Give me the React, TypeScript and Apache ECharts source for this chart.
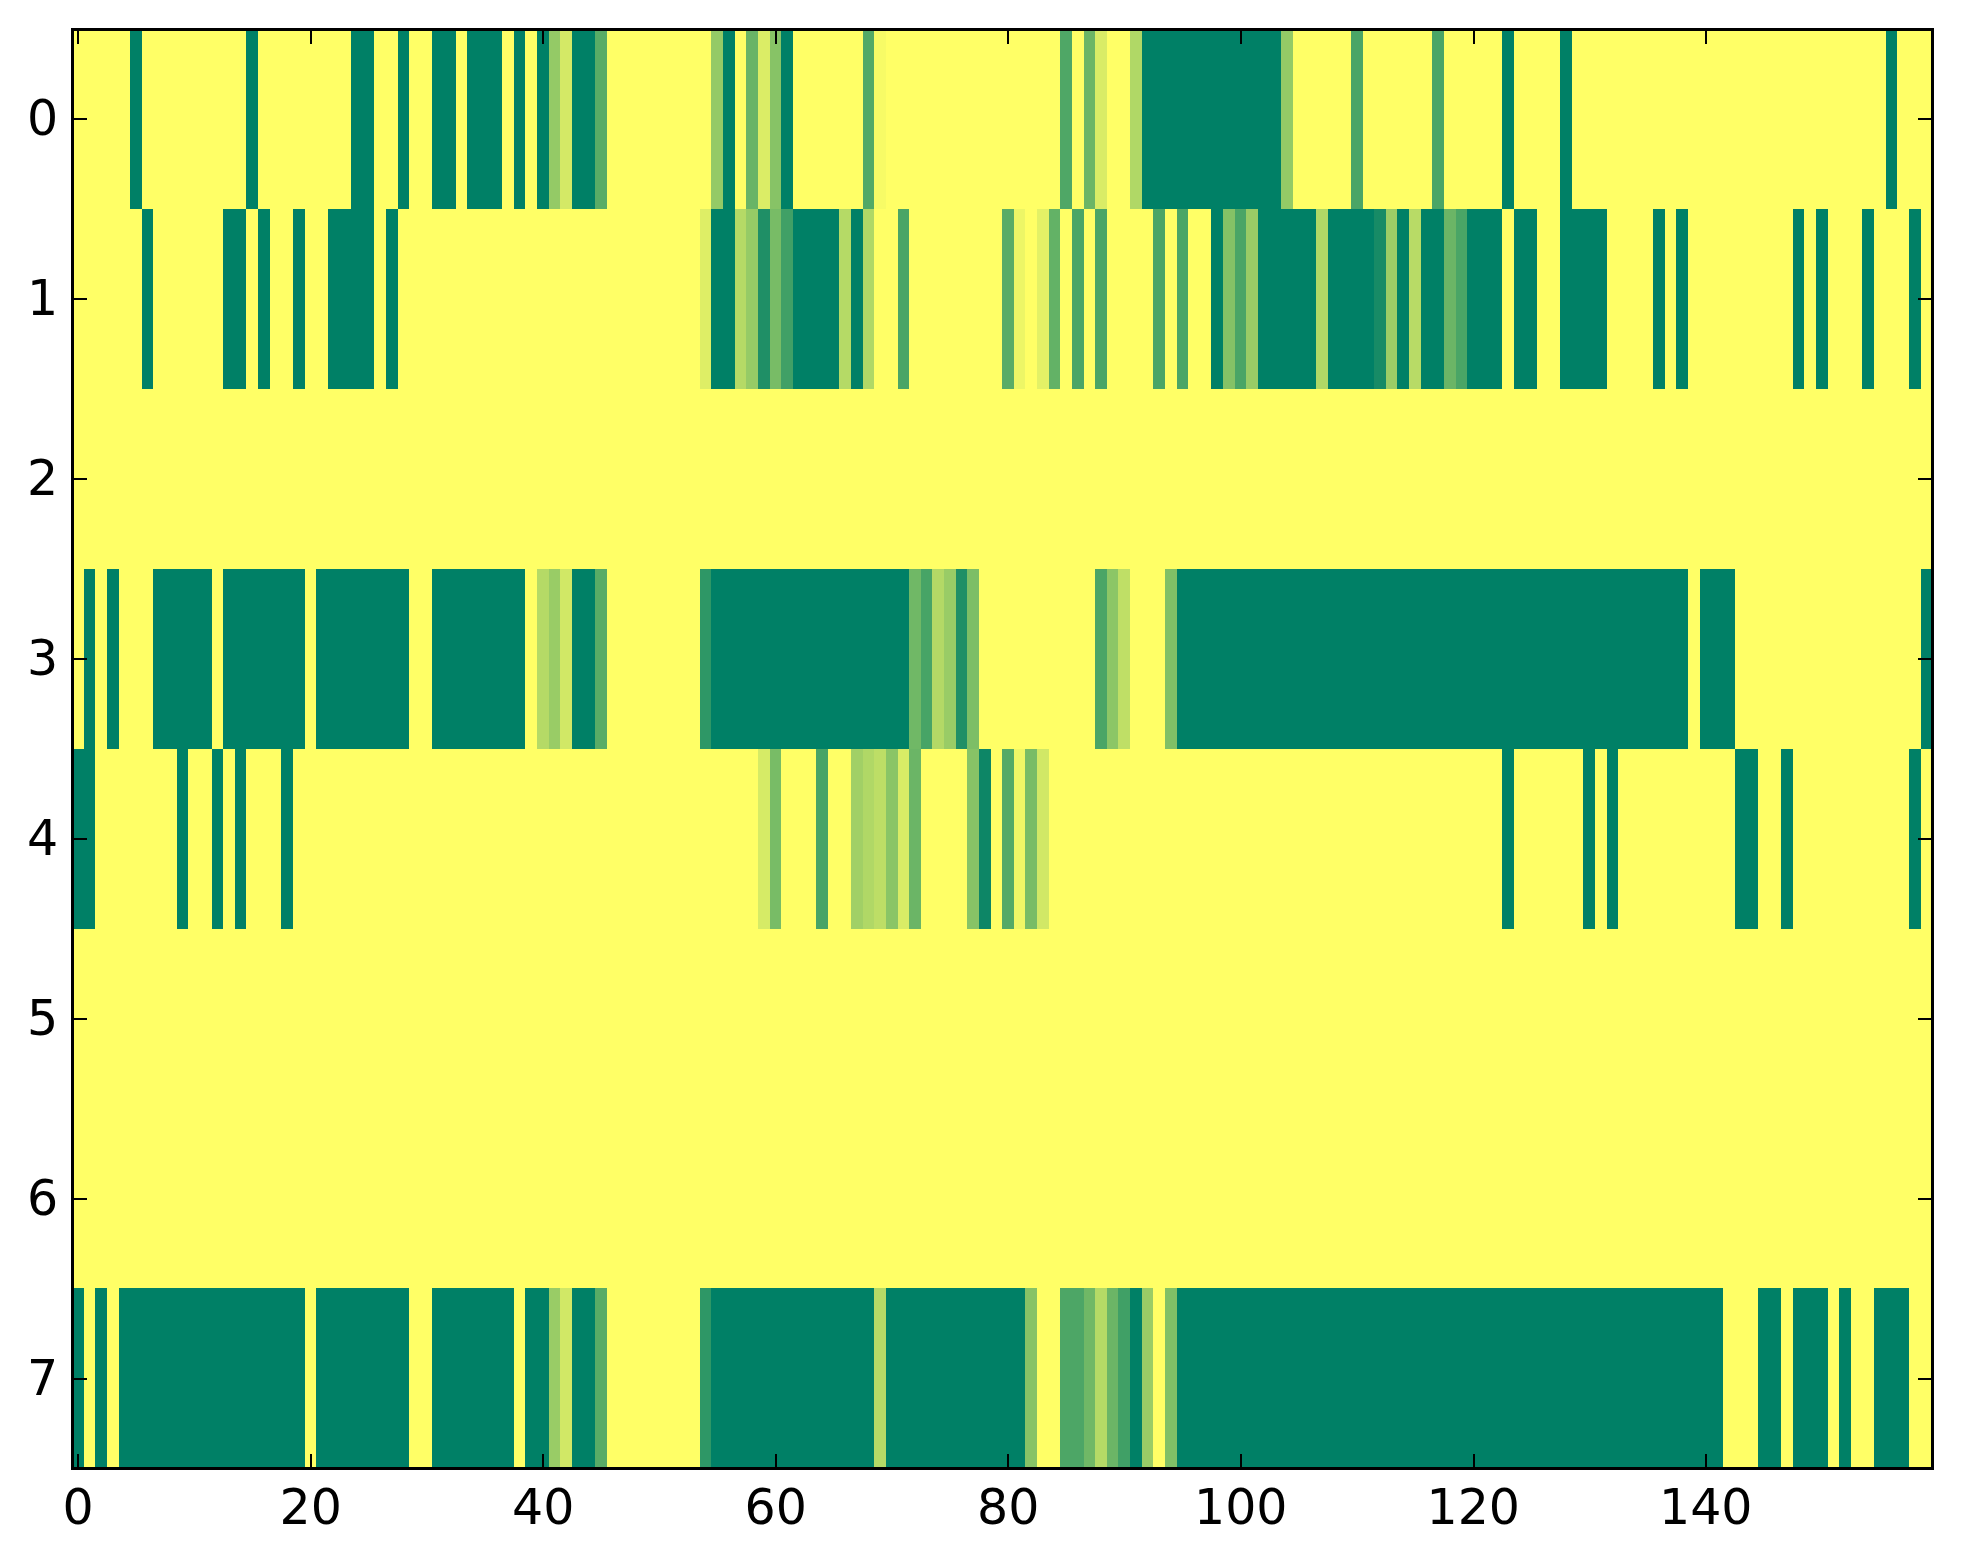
import React, { useEffect, useRef } from 'react';
import * as echarts from 'echarts';

const rowLabels = ['0', '1', '2', '3', '4', '5', '6', '7'];
const xTickValues = [0, 20, 40, 60, 80, 100, 120, 140];

const row0 = [
  1, 1, 1, 1, 1, 0, 1, 1, 1, 1,
  1, 1, 1, 1, 1, 0, 1, 1, 1, 1,
  1, 1, 1, 1, 0, 0, 1, 1, 0, 1,
  1, 0, 0, 1, 0, 0, 0, 1, 0, 1,
  0, 0.58, 0.83, 0, 0, 0.35, 1, 1, 1, 1,
  1, 1, 1, 1, 1, 0.58, 0, 1, 0.41, 0.86,
  0.53, 0, 1, 1, 1, 1, 1, 1, 0.32, 0.97,
  1, 1, 1, 1, 1, 1, 1, 1, 1, 1,
  1, 1, 1, 1, 1, 0.31, 1, 0.42, 0.85, 1,
  1, 0.69, 0, 0, 0, 0, 0, 0, 0, 0,
  0, 0, 0, 0, 0.58, 1, 1, 1, 1, 1,
  0.29, 1, 1, 1, 1, 1, 1, 0.29, 1, 1,
  1, 1, 1, 0, 1, 1, 1, 1, 0, 1,
  1, 1, 1, 1, 1, 1, 1, 1, 1, 1,
  1, 1, 1, 1, 1, 1, 1, 1, 1, 1,
  1, 1, 1, 1, 1, 1, 0, 1, 1, 1,
];

const row1 = [
  1, 1, 1, 1, 1, 1, 0, 1, 1, 1,
  1, 1, 1, 0, 0, 1, 0, 1, 1, 0,
  1, 1, 0, 0, 0, 0, 1, 0, 1, 1,
  1, 1, 1, 1, 1, 1, 1, 1, 1, 1,
  1, 1, 1, 1, 1, 1, 1, 1, 1, 1,
  1, 1, 1, 1, 0.87, 0, 0, 0.71, 0.59, 0.12,
  0.47, 0.25, 0, 0, 0, 0, 0.71, 0, 0.69, 1,
  1, 0.29, 1, 1, 1, 1, 1, 1, 1, 1,
  0.35, 0.93, 1, 0.89, 0.39, 1, 0.29, 1, 0.29, 1,
  1, 1, 1, 0.29, 1, 0.29, 1, 1, 0, 0.52,
  0.29, 0.6, 0, 0, 0, 0, 0, 0.69, 0, 0,
  0, 0, 0.09, 0.61, 0, 0.72, 0, 0, 0.42, 0.29,
  0, 0, 0, 1, 0, 0, 1, 1, 0, 0,
  0, 0, 1, 1, 1, 1, 0, 1, 0, 1,
  1, 1, 1, 1, 1, 1, 1, 1, 0, 1,
  0, 1, 1, 1, 0, 1, 1, 1, 0, 1,
];

const row2 = [
  1, 1, 1, 1, 1, 1, 1, 1, 1, 1,
  1, 1, 1, 1, 1, 1, 1, 1, 1, 1,
  1, 1, 1, 1, 1, 1, 1, 1, 1, 1,
  1, 1, 1, 1, 1, 1, 1, 1, 1, 1,
  1, 1, 1, 1, 1, 1, 1, 1, 1, 1,
  1, 1, 1, 1, 1, 1, 1, 1, 1, 1,
  1, 1, 1, 1, 1, 1, 1, 1, 1, 1,
  1, 1, 1, 1, 1, 1, 1, 1, 1, 1,
  1, 1, 1, 1, 1, 1, 1, 1, 1, 1,
  1, 1, 1, 1, 1, 1, 1, 1, 1, 1,
  1, 1, 1, 1, 1, 1, 1, 1, 1, 1,
  1, 1, 1, 1, 1, 1, 1, 1, 1, 1,
  1, 1, 1, 1, 1, 1, 1, 1, 1, 1,
  1, 1, 1, 1, 1, 1, 1, 1, 1, 1,
  1, 1, 1, 1, 1, 1, 1, 1, 1, 1,
  1, 1, 1, 1, 1, 1, 1, 1, 1, 1,
];

const row3 = [
  1, 0, 1, 0, 1, 1, 1, 0, 0, 0,
  0, 0, 1, 0, 0, 0, 0, 0, 0, 0,
  1, 0, 0, 0, 0, 0, 0, 0, 0, 1,
  1, 0, 0, 0, 0, 0, 0, 0, 0, 1,
  0.71, 0.6, 0.82, 0, 0, 0.35, 1, 1, 1, 1,
  1, 1, 1, 1, 0.18, 0, 0, 0, 0, 0,
  0, 0, 0, 0, 0, 0, 0, 0, 0, 0,
  0, 0, 0.44, 0.28, 0.7, 0.6, 0.12, 0.49, 1, 1,
  1, 1, 1, 1, 1, 1, 1, 1, 0.29, 0.55,
  0.75, 1, 1, 1, 0.5, 0, 0, 0, 0, 0,
  0, 0, 0, 0, 0, 0, 0, 0, 0, 0,
  0, 0, 0, 0, 0, 0, 0, 0, 0, 0,
  0, 0, 0, 0, 0, 0, 0, 0, 0, 0,
  0, 0, 0, 0, 0, 0, 0, 0, 0, 1,
  0, 0, 0, 1, 1, 1, 1, 1, 1, 1,
  1, 1, 1, 1, 1, 1, 1, 1, 1, 0,
];

const row4 = [
  0, 0, 1, 1, 1, 1, 1, 1, 1, 0,
  1, 1, 0, 1, 0, 1, 1, 1, 0, 1,
  1, 1, 1, 1, 1, 1, 1, 1, 1, 1,
  1, 1, 1, 1, 1, 1, 1, 1, 1, 1,
  1, 1, 1, 1, 1, 1, 1, 1, 1, 1,
  1, 1, 1, 1, 1, 1, 1, 1, 1, 0.84,
  0.47, 1, 1, 1, 0.28, 1, 1, 0.63, 0.69, 0.74,
  0.54, 0.85, 0.42, 1, 1, 1, 1, 0.53, 0.05, 1,
  0.33, 0.94, 0.47, 0.82, 1, 1, 1, 1, 1, 1,
  1, 1, 1, 1, 1, 1, 1, 1, 1, 1,
  1, 1, 1, 1, 1, 1, 1, 1, 1, 1,
  1, 1, 1, 1, 1, 1, 1, 1, 1, 1,
  1, 1, 1, 0, 1, 1, 1, 1, 1, 1,
  0, 1, 0, 1, 1, 1, 1, 1, 1, 1,
  1, 1, 1, 0, 0, 1, 1, 0, 1, 1,
  1, 1, 1, 1, 1, 1, 1, 1, 0, 1,
];

const row5 = [
  1, 1, 1, 1, 1, 1, 1, 1, 1, 1,
  1, 1, 1, 1, 1, 1, 1, 1, 1, 1,
  1, 1, 1, 1, 1, 1, 1, 1, 1, 1,
  1, 1, 1, 1, 1, 1, 1, 1, 1, 1,
  1, 1, 1, 1, 1, 1, 1, 1, 1, 1,
  1, 1, 1, 1, 1, 1, 1, 1, 1, 1,
  1, 1, 1, 1, 1, 1, 1, 1, 1, 1,
  1, 1, 1, 1, 1, 1, 1, 1, 1, 1,
  1, 1, 1, 1, 1, 1, 1, 1, 1, 1,
  1, 1, 1, 1, 1, 1, 1, 1, 1, 1,
  1, 1, 1, 1, 1, 1, 1, 1, 1, 1,
  1, 1, 1, 1, 1, 1, 1, 1, 1, 1,
  1, 1, 1, 1, 1, 1, 1, 1, 1, 1,
  1, 1, 1, 1, 1, 1, 1, 1, 1, 1,
  1, 1, 1, 1, 1, 1, 1, 1, 1, 1,
  1, 1, 1, 1, 1, 1, 1, 1, 1, 1,
];

const row6 = [
  1, 1, 1, 1, 1, 1, 1, 1, 1, 1,
  1, 1, 1, 1, 1, 1, 1, 1, 1, 1,
  1, 1, 1, 1, 1, 1, 1, 1, 1, 1,
  1, 1, 1, 1, 1, 1, 1, 1, 1, 1,
  1, 1, 1, 1, 1, 1, 1, 1, 1, 1,
  1, 1, 1, 1, 1, 1, 1, 1, 1, 1,
  1, 1, 1, 1, 1, 1, 1, 1, 1, 1,
  1, 1, 1, 1, 1, 1, 1, 1, 1, 1,
  1, 1, 1, 1, 1, 1, 1, 1, 1, 1,
  1, 1, 1, 1, 1, 1, 1, 1, 1, 1,
  1, 1, 1, 1, 1, 1, 1, 1, 1, 1,
  1, 1, 1, 1, 1, 1, 1, 1, 1, 1,
  1, 1, 1, 1, 1, 1, 1, 1, 1, 1,
  1, 1, 1, 1, 1, 1, 1, 1, 1, 1,
  1, 1, 1, 1, 1, 1, 1, 1, 1, 1,
  1, 1, 1, 1, 1, 1, 1, 1, 1, 1,
];

const row7 = [
  0, 1, 0, 1, 0, 0, 0, 0, 0, 0,
  0, 0, 0, 0, 0, 0, 0, 0, 0, 0,
  1, 0, 0, 0, 0, 0, 0, 0, 0, 1,
  1, 0, 0, 0, 0, 0, 0, 0, 1, 0,
  0, 0.6, 0.82, 0, 0, 0.35, 1, 1, 1, 1,
  1, 1, 1, 1, 0.18, 0, 0, 0, 0, 0,
  0, 0, 0, 0, 0, 0, 0, 0, 0, 0.71,
  0, 0, 0, 0, 0, 0, 0, 0, 0, 0,
  0, 0, 0.53, 1, 1, 0.3, 0.3, 0.44, 0.71, 0.42,
  0.25, 0, 0.6, 1, 0.5, 0, 0, 0, 0, 0,
  0, 0, 0, 0, 0, 0, 0, 0, 0, 0,
  0, 0, 0, 0, 0, 0, 0, 0, 0, 0,
  0, 0, 0, 0, 0, 0, 0, 0, 0, 0,
  0, 0, 0, 0, 0, 0, 0, 0, 0, 0,
  0, 0, 1, 1, 1, 0, 0, 1, 0, 0,
  0, 1, 0, 1, 1, 0, 0, 0, 1, 1,
];

const rows = [row0, row1, row2, row3, row4, row5, row6, row7];

export default function App() {
  const ref = useRef<HTMLDivElement>(null);

  useEffect(() => {
    if (!ref.current) return;
    const chart = echarts.init(ref.current, null, { renderer: 'svg' });
    const nCols = row0.length;
    const xCategories = Array.from({ length: nCols }, (_, i) => String(i));
    const data: number[][] = [];
    rows.forEach((row, y) => row.forEach((v, x) => data.push([x, y, v])));
    const showX = (i: number) => xTickValues.includes(i);
    const font = { fontFamily: 'DejaVu Sans', fontSize: 49, color: '#000' };
    const line = { show: true, onZero: false, lineStyle: { color: '#000', width: 3 } };
    const tick = (interval: any) => ({
      show: true,
      inside: true,
      length: 15,
      alignWithLabel: true,
      interval,
      lineStyle: { color: '#000', width: 2 },
    });

    chart.setOption({
      animation: false,
      backgroundColor: '#ffffff',
      grid: { left: 64.3, top: 21, width: 1860.2, height: 1439.7, containLabel: false },
      xAxis: [
        {
          type: 'category',
          data: xCategories,
          position: 'bottom',
          z: 10,
          axisLine: line,
          axisTick: tick(showX),
          axisLabel: { ...font, interval: showX, margin: 14 },
          splitLine: { show: false },
        },
        {
          type: 'category',
          data: xCategories,
          position: 'top',
          z: 10,
          axisLine: line,
          axisTick: tick(showX),
          axisLabel: { show: false },
          splitLine: { show: false },
        },
      ],
      yAxis: [
        {
          type: 'category',
          data: rowLabels,
          inverse: true,
          position: 'left',
          z: 10,
          axisLine: line,
          axisTick: tick(0),
          axisLabel: { ...font, interval: 0, margin: 14 },
          splitLine: { show: false },
        },
        {
          type: 'category',
          data: rowLabels,
          inverse: true,
          position: 'right',
          z: 10,
          axisLine: line,
          axisTick: tick(0),
          axisLabel: { show: false },
          splitLine: { show: false },
        },
      ],
      visualMap: {
        show: false,
        type: 'continuous',
        min: 0,
        max: 1,
        dimension: 2,
        seriesIndex: 0,
        inRange: { color: ['#008066', '#ffff66'] },
      },
      series: [
        {
          type: 'heatmap',
          xAxisIndex: 0,
          yAxisIndex: 0,
          data,
          progressive: 0,
          emphasis: { disabled: true },
        },
      ],
    });

    return () => chart.dispose();
  }, []);

  return (
    <>
      <style>{'.heat-wrap svg path, .heat-wrap svg rect { shape-rendering: crispEdges; }'}</style>
      <div className="heat-wrap" ref={ref} style={{ width: 1940, height: 1540 }} />
    </>
  );
}
